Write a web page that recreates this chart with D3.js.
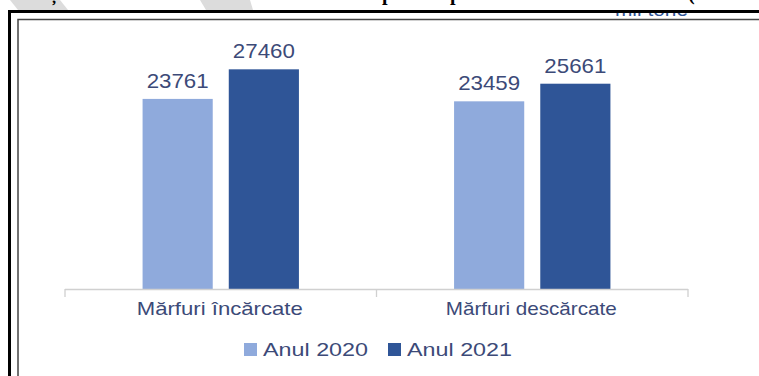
<!DOCTYPE html>
<html><head><meta charset="utf-8">
<script src="https://cdn.jsdelivr.net/npm/d3@7"></script>
<style>body{margin:0;background:#fff}svg{display:block}</style>
</head><body>
<svg id="chart" width="759" height="376"></svg>
<script>
// ---- data ----
const categories = ["Mărfuri încărcate", "Mărfuri descărcate"];
const seriesNames = ["Anul 2020", "Anul 2021"];
const values2020 = [23761, 23459];
const values2021 = [27460, 25661];
const unitLabel = "mii tone";
const titleParts = ["Evoluția traficului de mărfuri în", "porturi", "pe anii 2020 – 2021", "(mii tone)"];

// ---- drawing ----
const svg = d3.select("#chart");
const W = 759, H = 376;
const colors = d3.scaleOrdinal().domain(seriesNames).range(["#8faadc", "#2f5597"]);
const textColor = "#3c4a78";
const font = "'Liberation Sans', Arial, sans-serif";

const x0 = d3.scaleBand().domain(categories).range([65, 688]).padding(0);
const x1 = d3.scaleBand().domain(seriesNames).range([0, x0.bandwidth()])
  .paddingInner(16 / 86).paddingOuter(0.9);
const y = d3.scaleLinear().domain([0, 30000]).range([289, 49]);

const rows = categories.map((c, i) => ({cat: c, vals: [values2020[i], values2021[i]]}));

// unit label (partially hidden by frame)
svg.append("text").attr("x", 615).attr("y", 15.5)
  .attr("font-family", font).attr("font-size", 18).attr("fill", "#2f5597")
  .attr("textLength", 73).attr("lengthAdjust", "spacingAndGlyphs")
  .text(unitLabel);
svg.append("rect").attr("x", 0).attr("y", 0).attr("width", W).attr("height", 10).attr("fill", "#fff");

// watermark stripes
svg.append("polygon").attr("points", "10,0 60,0 68,10 18,10").attr("fill", "#dcdcdc");
svg.append("polygon").attr("points", "200,0 250,0 253,10 206,10").attr("fill", "#dcdcdc");

// title (cut off at top)
const title = svg.append("text").attr("y", 0)
  .attr("font-family", "'Liberation Serif', 'Times New Roman', serif")
  .attr("font-weight", "bold").attr("font-size", 20).attr("fill", "#000");
title.append("tspan").attr("x", 0).text(titleParts[0]);
title.append("tspan").attr("x", 382).text(titleParts[1]);
title.append("tspan").attr("x", 450).text(titleParts[2]);
title.append("tspan").attr("x", 688).text(titleParts[3]);

// frame
svg.append("rect").attr("x", 9.5).attr("y", 11.5).attr("width", W + 20).attr("height", H + 20)
  .attr("fill", "none").attr("stroke", "#000").attr("stroke-width", 3);
svg.append("rect").attr("x", 18).attr("y", 19.5).attr("width", W + 20).attr("height", H + 20)
  .attr("fill", "none").attr("stroke", "#444").attr("stroke-width", 1.5);

// bars
const groups = svg.append("g").selectAll("g").data(rows).join("g")
  .attr("transform", d => `translate(${x0(d.cat)},0)`);
groups.selectAll("rect").data(d => d.vals.map((v, j) => ({name: seriesNames[j], v})))
  .join("rect")
  .attr("x", d => x1(d.name)).attr("width", x1.bandwidth())
  .attr("y", d => y(d.v)).attr("height", d => y(0) - y(d.v))
  .attr("fill", d => colors(d.name));
groups.selectAll("text").data(d => d.vals.map((v, j) => ({name: seriesNames[j], v})))
  .join("text")
  .attr("x", d => x1(d.name) + x1.bandwidth() / 2).attr("y", d => y(d.v) - 11)
  .attr("text-anchor", "middle").attr("font-family", font).attr("font-size", 21)
  .attr("textLength", 62).attr("lengthAdjust", "spacingAndGlyphs")
  .attr("fill", textColor).text(d => d.v);

// category axis
const ax = svg.append("g").attr("stroke", "#d0d0d0").attr("stroke-width", 1.3);
ax.append("line").attr("x1", x0.range()[0]).attr("x2", x0.range()[1]).attr("y1", y(0) + 0.5).attr("y2", y(0) + 0.5);
const bounds = categories.map(c => x0(c)).concat([x0.range()[1]]);
ax.selectAll("line.t").data(bounds).join("line").attr("class", "t")
  .attr("x1", d => d).attr("x2", d => d).attr("y1", y(0)).attr("y2", y(0) + 8);
const catLen = [166, 171];
svg.append("g").selectAll("text").data(categories).join("text")
  .attr("x", d => x0(d) + x0.bandwidth() / 2 - 1).attr("y", 315)
  .attr("text-anchor", "middle").attr("font-family", font).attr("font-size", 19)
  .attr("textLength", (d, i) => catLen[i]).attr("lengthAdjust", "spacingAndGlyphs")
  .attr("fill", textColor).text(d => d);

// legend
const legendX = [244, 388];
const lg = svg.append("g").selectAll("g").data(seriesNames).join("g")
  .attr("transform", (d, i) => `translate(${legendX[i]},343)`);
lg.append("rect").attr("width", 13).attr("height", 13).attr("fill", d => colors(d));
lg.append("text").attr("x", 19).attr("y", 13).attr("font-family", font).attr("font-size", 19)
  .attr("textLength", 105).attr("lengthAdjust", "spacingAndGlyphs")
  .attr("fill", textColor).text(d => d);
</script>
</body></html>
